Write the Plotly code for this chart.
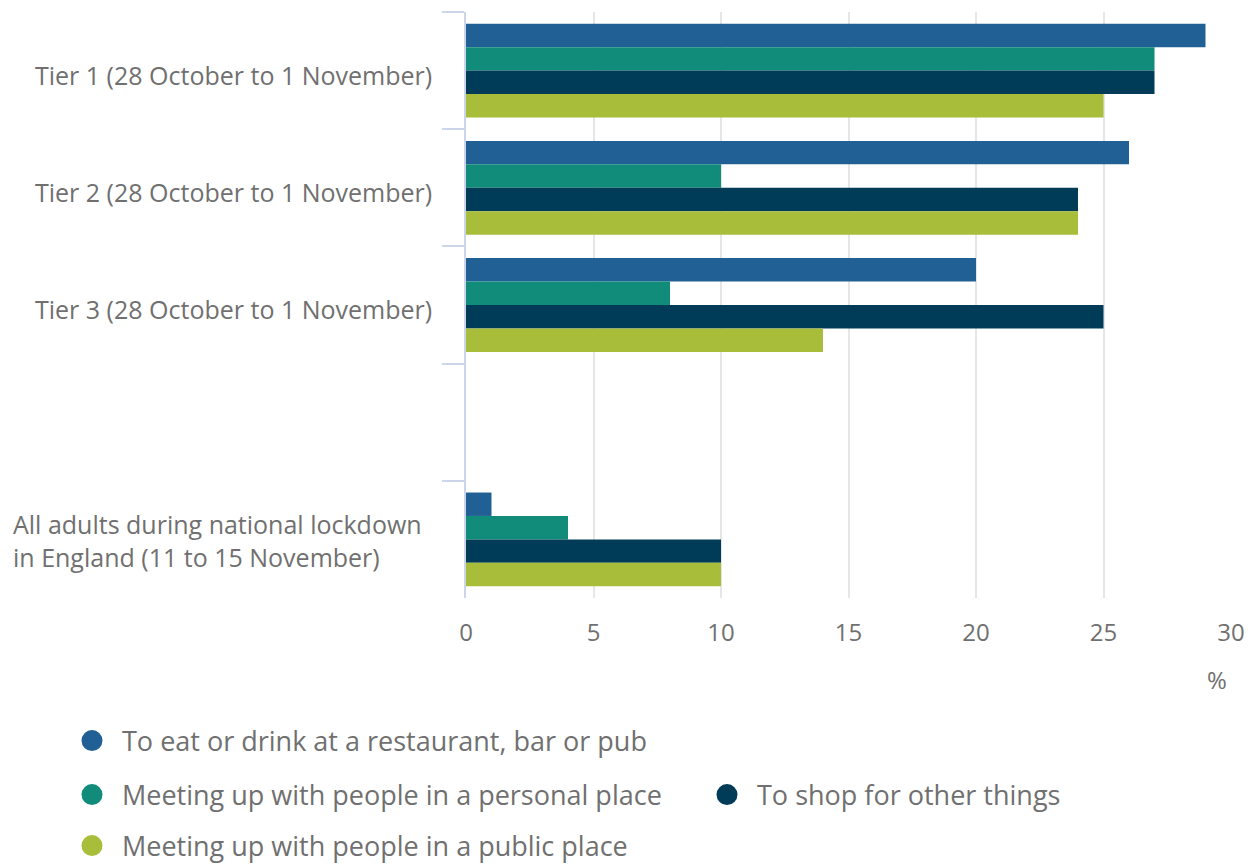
import plotly.graph_objects as go

# ---- data ----
categories = ["Tier 1", "Tier 2", "Tier 3", " ", "All adults"]
category_labels = [
    "Tier 1 (28 October to 1 November)",
    "Tier 2 (28 October to 1 November)",
    "Tier 3 (28 October to 1 November)",
    "",
    "All adults during national lockdown<br>in England (11 to 15 November)",
]
series_names = [
    "To eat or drink at a restaurant, bar or pub",
    "Meeting up with people in a personal place",
    "To shop for other things",
    "Meeting up with people in a public place",
]
eat_drink = [29, 26, 20, None, 1]
personal_place = [27, 10, 8, None, 4]
shop_other = [27, 24, 25, None, 10]
public_place = [25, 24, 14, None, 10]
x_ticks = [0, 5, 10, 15, 20, 25, 30]
unit_label = "%"

series_values = [eat_drink, personal_place, shop_other, public_place]
colors = ["#206095", "#118c7b", "#003c57", "#a8bd3a"]
legend_ids = ["legend", "legend2", "legend3", "legend4"]
# legend item placement (circle centre, px from left / top)
legend_pos = [(92, 741), (92, 795), (727, 795), (92, 846)]

FONT = "Open Sans"
GREY = "#707070"
W, H = 1257, 865

fig = go.Figure()
for name, vals, col in zip(series_names, series_values, colors):
    fig.add_trace(go.Bar(
        y=categories, x=vals, name=name, orientation="h",
        marker=dict(color=col, line=dict(width=0)),
        showlegend=False, hoverinfo="x+name",
    ))
# legend entries (circle symbols)
for name, col, lg in zip(series_names, colors, legend_ids):
    fig.add_trace(go.Scatter(
        x=[None], y=[None], mode="markers", name=name,
        marker=dict(symbol="circle", size=16, color=col, line=dict(color=col, width=5)),
        legend=lg, showlegend=True,
    ))

annotations = []
for cat, lab in zip(categories, category_labels):
    if not lab:
        continue
    multiline = "<br>" in lab
    annotations.append(dict(
        x=0, xref="paper", y=cat, yref="y",
        text=lab, showarrow=False, xanchor="right", yanchor="middle",
        align="left", xshift=-42 if multiline else -32, yshift=-1 if multiline else -4,
        font=dict(family=FONT, size=25, color=GREY),
    ))
annotations.append(dict(
    x=1, xref="paper", y=0, yref="paper", text=unit_label, showarrow=False,
    xanchor="right", yanchor="middle", xshift=-2, yshift=-81,
    font=dict(family=FONT, size=24, color=GREY),
))

legend_common = dict(
    orientation="h", xref="container", yref="container", xanchor="left", yanchor="middle",
    font=dict(family=FONT, size=27, color=GREY), itemwidth=50, borderwidth=0,
    bgcolor="rgba(0,0,0,0)", itemclick=False, itemdoubleclick=False,
)
legends = {}
for lg, (cx, cy) in zip(legend_ids, legend_pos):
    legends[lg] = dict(**legend_common, x=(cx - 30) / W, y=1 - cy / H)

fig.update_layout(
    width=W, height=H,
    margin=dict(l=466, r=23, t=12, b=267),
    paper_bgcolor="white", plot_bgcolor="white",
    barmode="group", bargap=0.2, bargroupgap=0,
    font=dict(family=FONT, size=24, color=GREY),
    xaxis=dict(
        range=[0, 30], tickvals=x_ticks, showgrid=True, gridcolor="#e6e6e6", gridwidth=2,
        zeroline=False, showline=False, ticks="", ticklabelstandoff=18,
        tickfont=dict(family=FONT, size=24, color=GREY), fixedrange=True,
    ),
    yaxis=dict(
        categoryorder="array", categoryarray=categories, range=[4.5, -0.5],
        showticklabels=False, showgrid=False, zeroline=False,
        showline=True, linecolor="#ccd6eb", linewidth=2,
        ticks="outside", tickson="boundaries", ticklen=22, tickwidth=2, tickcolor="#ccd6eb",
        fixedrange=True,
    ),
    annotations=annotations,
    **legends,
)

fig.write_html("out.html")
